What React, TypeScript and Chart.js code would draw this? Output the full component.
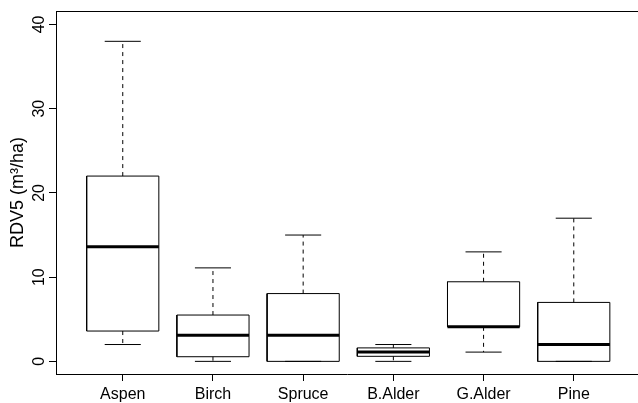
import React, { useEffect, useRef } from 'react';
import { Chart, registerables } from 'chart.js';

Chart.register(...registerables);

const categories = ['Aspen', 'Birch', 'Spruce', 'B.Alder', 'G.Alder', 'Pine'];
const lowerWhisker = [2.0, 0, 0, 0, 1.1, 0];
const q1 = [3.6, 0.55, 0, 0.6, 4.1, 0];
const median = [13.6, 3.1, 3.1, 1.1, 4.1, 2.0];
const q3 = [22.0, 5.5, 8.05, 1.6, 9.45, 7.0];
const upperWhisker = [38, 11.1, 15, 2.0, 13, 17];
const yTicks = [0, 10, 20, 30, 40];

const BOX_HALF = 0.4;
const CAP_HALF = 0.2;
const FONT = '"Liberation Sans", Arial, Helvetica, sans-serif';

type Pt = { x: number; y: number | null };

function buildBoxes(): Pt[] {
  const pts: Pt[] = [];
  categories.forEach((_, i) => {
    const c = i + 1;
    pts.push({ x: c - BOX_HALF, y: q1[i] }, { x: c + BOX_HALF, y: q1[i] }, { x: c + BOX_HALF, y: q3[i] },
      { x: c - BOX_HALF, y: q3[i] }, { x: c - BOX_HALF, y: q1[i] }, { x: c, y: null });
  });
  return pts;
}
function buildMedians(): Pt[] {
  const pts: Pt[] = [];
  categories.forEach((_, i) => {
    const c = i + 1;
    pts.push({ x: c - BOX_HALF, y: median[i] }, { x: c + BOX_HALF, y: median[i] }, { x: c, y: null });
  });
  return pts;
}
function buildWhiskers(): Pt[] {
  const pts: Pt[] = [];
  categories.forEach((_, i) => {
    const c = i + 1;
    pts.push({ x: c, y: q3[i] }, { x: c, y: upperWhisker[i] }, { x: c, y: null });
    pts.push({ x: c, y: q1[i] }, { x: c, y: lowerWhisker[i] }, { x: c, y: null });
  });
  return pts;
}
function buildCaps(): Pt[] {
  const pts: Pt[] = [];
  categories.forEach((_, i) => {
    const c = i + 1;
    pts.push({ x: c - CAP_HALF, y: upperWhisker[i] }, { x: c + CAP_HALF, y: upperWhisker[i] }, { x: c, y: null });
    pts.push({ x: c - CAP_HALF, y: lowerWhisker[i] }, { x: c + CAP_HALF, y: lowerWhisker[i] }, { x: c, y: null });
  });
  return pts;
}

const framePlugin = {
  id: 'frameTop',
  afterDraw(chart: any) {
    const { ctx, chartArea } = chart;
    ctx.save();
    ctx.strokeStyle = '#000';
    ctx.lineWidth = 1;
    ctx.beginPath();
    ctx.moveTo(chartArea.left, chartArea.top + 0.5);
    ctx.lineTo(chartArea.right, chartArea.top + 0.5);
    ctx.stroke();
    ctx.restore();
  },
};

export default function App() {
  const ref = useRef<HTMLCanvasElement>(null);
  useEffect(() => {
    if (!ref.current) return;
    const common = { pointRadius: 0, pointHoverRadius: 0, tension: 0, spanGaps: false, fill: false, borderColor: '#000' };
    const chart = new Chart(ref.current, {
      type: 'line',
      data: {
        datasets: [
          { ...common, data: buildMedians(), borderWidth: 3, borderCapStyle: 'butt' },
          { ...common, data: buildBoxes(), borderWidth: 1 },
          { ...common, data: buildWhiskers(), borderWidth: 1, borderDash: [4, 4] },
          { ...common, data: buildCaps(), borderWidth: 1 },
        ] as any,
      },
      options: {
        animation: false,
        responsive: true,
        maintainAspectRatio: false,
        events: [],
        layout: { padding: { left: 0, right: 0, top: 11, bottom: 0 } },
        plugins: { legend: { display: false }, tooltip: { enabled: false } },
        scales: {
          x: {
            type: 'linear',
            min: 0.26,
            max: 6.712,
            afterBuildTicks: (s: any) => { s.ticks = categories.map((_, i) => ({ value: i + 1 })); },
            afterFit: (s: any) => { s.height = 29; },
            grid: { drawOnChartArea: false, drawTicks: true, tickLength: 7, color: '#000' },
            border: { display: true, color: '#000', width: 1 },
            ticks: {
              color: '#000',
              font: { family: FONT, size: 16 },
              padding: 4,
              maxRotation: 0,
              minRotation: 0,
              callback: (v: any) => categories[Math.round(v) - 1] ?? '',
            },
          },
          y: {
            type: 'linear',
            min: -1.5,
            max: 41.6,
            afterBuildTicks: (s: any) => { s.ticks = yTicks.map((v) => ({ value: v })); },
            afterFit: (s: any) => { s.width = 56; },
            grid: { drawOnChartArea: false, drawTicks: true, tickLength: 7, color: '#000' },
            border: { display: true, color: '#000', width: 1 },
            ticks: {
              color: '#000',
              font: { family: FONT, size: 16 },
              minRotation: 90,
              maxRotation: 90,
              crossAlign: 'center',
              padding: 1,
            },
            title: {
              display: true,
              text: 'RDV5 (m³/ha)',
              color: '#000',
              font: { family: FONT, size: 18 },
              padding: { top: 7.5, bottom: 0 },
            },
          },
        },
      } as any,
      plugins: [framePlugin],
    });
    return () => chart.destroy();
  }, []);
  return (
    <div style={{ position: 'fixed', left: 0, top: 0, width: 638, height: 403, background: '#fff' }}>
      <canvas ref={ref} />
    </div>
  );
}
